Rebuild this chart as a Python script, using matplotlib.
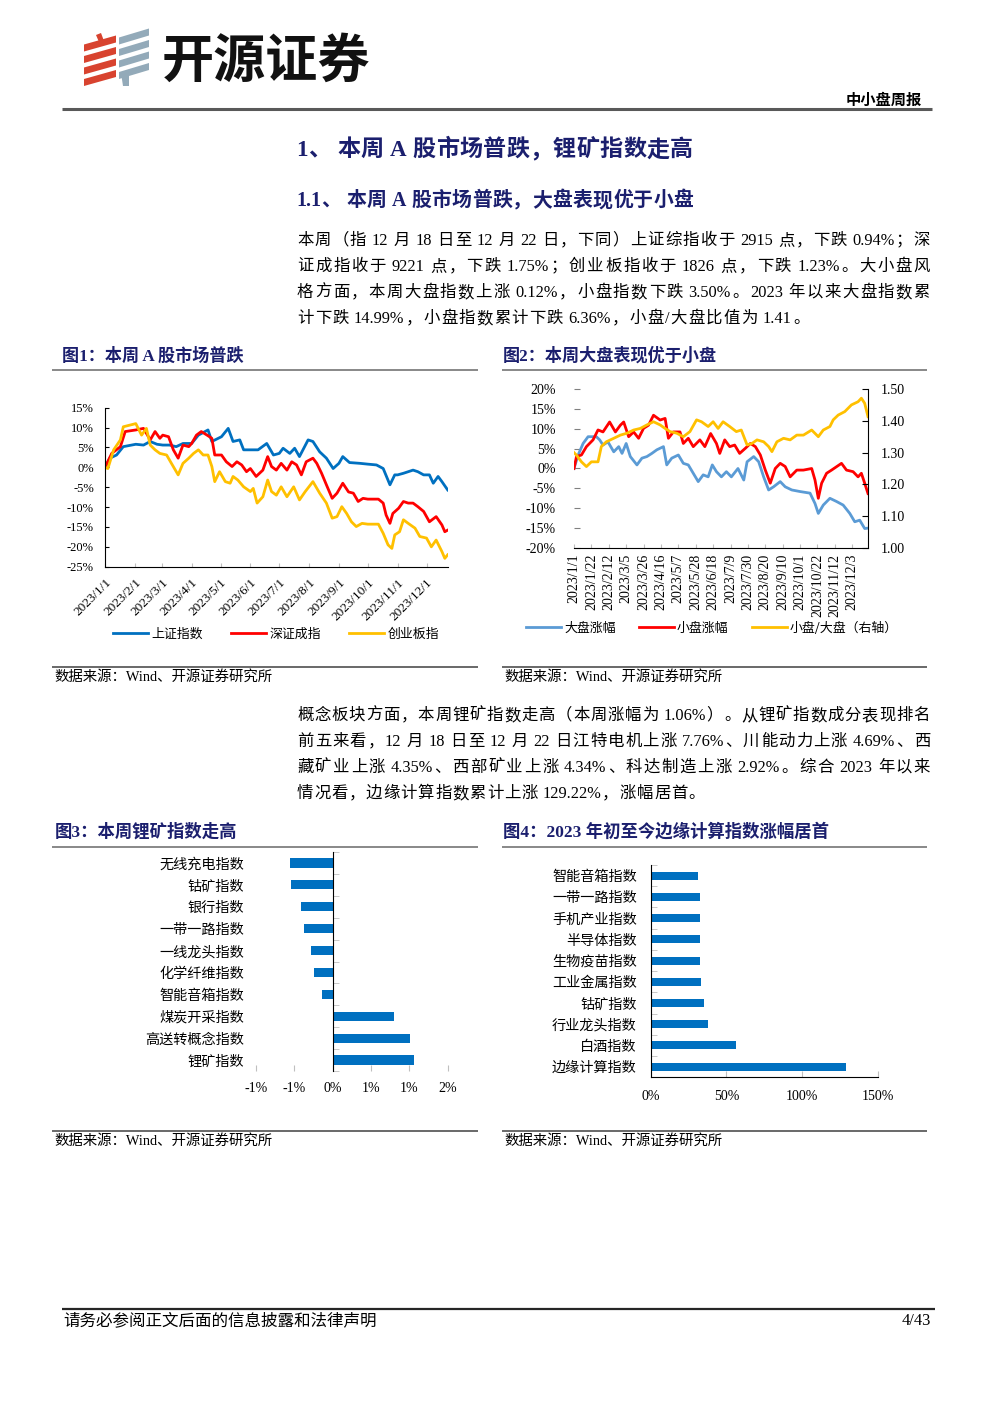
import matplotlib
matplotlib.use('Agg')
import matplotlib.pyplot as plt
from matplotlib.lines import Line2D
from matplotlib.patches import Polygon
import numpy as np
import pandas as pd

W, H, DPI = 992, 1403, 100
SERIF = ['Liberation Serif', 'Noto Sans CJK SC']
CJK = ['Noto Sans CJK SC', 'Liberation Serif']
NAVY = '#1B1F6E'
plt.rcParams['font.family'] = SERIF
plt.rcParams['axes.unicode_minus'] = False

# ---------------- data ----------------
# Fig 1 : index cumulative change (%) ; x = days since 2023-01-01
SH_DAYS = [0, 5, 12, 19, 32, 40, 47, 54, 60, 67, 74, 81, 90, 97, 107, 111, 121, 128, 133, 140,
           144, 151, 159, 168, 175, 181, 185, 192, 197, 202, 211, 216, 223, 230, 237, 243, 247, 254, 265, 273,
           282, 289, 296, 301, 304, 310, 315, 320, 325, 331, 337, 341, 346, 350, 356]
SH_VALS = [0, 2.3, 3.1, 5.2, 5.8, 5.6, 6.5, 5.8, 5.6, 5.6, 5.2, 6.0, 6.0, 8.1, 9.4, 6.5, 7.7, 9.8, 6.5, 6.9,
           4.4, 4.4, 4.4, 6.0, 3.1, 3.5, 4.8, 3.5, 4.8, 2.7, 6.9, 6.5, 3.9, 2.3, -0.3, 1.0, 2.7, 1.2, 1.0, 0.8,
           0.6, -0.3, -4.4, -1.9, -1.9, -1.5, -1.1, -0.7, -1.1, -1.9, -1.9, -4.0, -2.3, -3.6, -5.7]
SZ_DAYS = [0, 7, 16, 21, 32, 40, 47, 52, 57, 60, 66, 71, 76, 81, 87, 90, 95, 100, 106, 111,
           114, 121, 126, 132, 137, 142, 147, 151, 157, 164, 169, 173, 178, 183, 189, 194, 199, 204, 209, 216,
           220, 225, 230, 236, 241, 247, 253, 258, 263, 268, 273, 284, 289, 292, 296, 299, 305, 310, 315, 320,
           325, 331, 337, 344, 350, 353, 356]
SZ_VALS = [0, 3.5, 5.2, 9.0, 9.4, 9.8, 6.9, 9.0, 7.3, 8.1, 7.7, 4.4, 2.3, 5.6, 5.2, 6.0, 8.1, 9.0, 8.1, 7.3,
           3.1, 3.1, 1.4, 0.2, 1.4, 0.6, -1.1, -0.3, -2.3, -0.7, 2.7, 0.2, -0.7, 1.0, -0.7, 1.4, 0.6, -1.9, 1.4, 2.3,
           1.0, -1.5, -4.4, -7.8, -6.5, -4.0, -6.2, -6.5, -8.6, -7.8, -8.0, -8.0, -9.0, -12.0, -14.1, -11.6, -10.3, -8.6, -9.0, -9.0,
           -9.9, -11.1, -13.7, -12.4, -14.5, -16.2, -15.8]
CY_DAYS = [0, 3, 9, 16, 19, 32, 38, 43, 47, 52, 57, 64, 69, 76, 81, 87, 92, 97, 102, 107,
           111, 114, 119, 125, 130, 133, 138, 144, 151, 154, 158, 164, 169, 173, 178, 183, 189, 196, 202, 208,
           216, 223, 230, 236, 241, 246, 251, 256, 261, 267, 273, 284, 289, 294, 298, 301, 306, 310, 315, 322,
           327, 334, 339, 344, 350, 353, 356]
CY_VALS = [0, -0.3, 4.4, 6.9, 10.2, 11.0, 8.1, 9.8, 5.6, 4.4, 3.5, 3.1, 1.0, -1.9, 1.0, 2.3, 3.5, 4.4, 3.1, 3.1,
           0.2, -3.6, -1.1, -3.6, -4.0, -2.3, -3.2, -4.9, -6.1, -5.3, -9.0, -7.4, -3.2, -6.1, -7.0, -4.9, -7.4, -4.9, -8.2, -6.1,
           -3.6, -6.5, -9.0, -12.8, -12.4, -9.9, -11.6, -13.7, -14.9, -14.1, -14.3, -14.3, -16.6, -19.5, -20.4, -17.0, -16.2, -13.2, -14.1, -15.3,
           -17.4, -17.8, -20.0, -18.3, -21.2, -22.9, -22.0]
F1_NAMES = ['上证指数', '深证成指', '创业板指']
F1_XTICKS = ['2023-01-01', '2023-02-01', '2023-03-01', '2023-04-01', '2023-05-01', '2023-06-01',
             '2023-07-01', '2023-08-01', '2023-09-01', '2023-10-01', '2023-11-01', '2023-12-01']
F1_XLABELS = ['2023/1/1', '2023/2/1', '2023/3/1', '2023/4/1', '2023/5/1', '2023/6/1',
              '2023/7/1', '2023/8/1', '2023/9/1', '2023/10/1', '2023/11/1', '2023/12/1']
F1_YTICKS = [-25, -20, -15, -10, -5, 0, 5, 10, 15]

# Fig 2 : large / small cap change (%), ratio (right axis)
BIG_DAYS = [0, 5, 11, 17, 27, 31, 35, 41, 48, 54, 58, 63, 68, 76, 82, 88, 94, 100, 108, 112,
            118, 126, 132, 138, 144, 150, 156, 162, 167, 172, 178, 184, 190, 198, 205, 209, 217, 223, 229, 235,
            241, 249, 255, 263, 273, 285, 291, 295, 301, 309, 317, 325, 333, 339, 345, 351, 355]
BIG_VALS = [0, 3.4, 6.3, 8.0, 8.0, 7.2, 5.9, 6.7, 4.2, 5.5, 3.8, 6.3, 3.0, 0.9, 2.6, 3.0, 3.8, 4.7, 5.5, 0.9,
            2.6, 3.4, 1.3, 0.9, -1.2, -3.3, -1.6, -2.1, 0.9, -0.8, -2.1, -0.8, -2.1, 0.0, -2.9, 1.7, 3.0, 1.7, -2.1, -5.4,
            -4.6, -3.3, -4.6, -5.4, -5.8, -6.2, -8.8, -11.3, -9.2, -7.5, -8.3, -9.2, -11.3, -13.4, -13.0, -15.1, -15.0]
SMALL_DAYS = [0, 3, 9, 15, 23, 29, 35, 43, 50, 56, 60, 66, 72, 78, 84, 90, 96, 104, 110, 114,
              120, 128, 132, 138, 144, 152, 158, 165, 172, 176, 182, 188, 194, 200, 207, 213, 219, 225, 231, 237,
              243, 249, 255, 261, 269, 277, 287, 291, 295, 299, 305, 311, 323, 329, 337, 343, 347, 351, 355]
SMALL_VALS = [0, 3.0, 3.4, 5.5, 7.2, 9.7, 9.2, 11.7, 9.2, 10.9, 11.7, 8.0, 9.2, 7.6, 10.1, 10.9, 13.4, 12.2, 12.6, 7.6,
              9.2, 9.2, 6.3, 7.6, 5.5, 7.2, 5.5, 8.8, 6.3, 3.8, 7.2, 5.5, 5.9, 3.8, 5.1, 6.3, 5.5, 3.4, -0.4, -3.7,
              0.0, 1.3, 0.5, -2.1, -0.4, -0.4, 0.0, -2.9, -7.5, -3.7, -1.2, -0.4, 1.3, -0.4, -0.8, -2.1, -1.2, -3.7, -6.3]
RATIO_DAYS = [0, 3, 9, 15, 21, 29, 33, 39, 48, 56, 64, 72, 80, 88, 96, 104, 110, 116, 124, 132,
              140, 148, 154, 162, 168, 174, 180, 188, 196, 202, 209, 215, 221, 229, 235, 239, 245, 253, 261, 269,
              277, 287, 295, 301, 309, 313, 319, 327, 335, 343, 347, 351, 355]
RATIO_VALS = [1.300, 1.292, 1.271, 1.256, 1.271, 1.271, 1.319, 1.334, 1.345, 1.355, 1.361, 1.371, 1.376, 1.387, 1.397, 1.387, 1.376, 1.366, 1.361, 1.350,
              1.366, 1.403, 1.397, 1.382, 1.397, 1.376, 1.397, 1.382, 1.366, 1.371, 1.324, 1.329, 1.340, 1.334, 1.319, 1.303, 1.334, 1.345, 1.340, 1.355,
              1.355, 1.371, 1.350, 1.371, 1.382, 1.403, 1.418, 1.429, 1.450, 1.460, 1.471, 1.455, 1.413]
F2_NAMES = ['大盘涨幅', '小盘涨幅', '小盘/大盘（右轴）']
F2_XLABELS = ['2023/1/1', '2023/1/22', '2023/2/12', '2023/3/5', '2023/3/26', '2023/4/16', '2023/5/7',
              '2023/5/28', '2023/6/18', '2023/7/9', '2023/7/30', '2023/8/20', '2023/9/10', '2023/10/1',
              '2023/10/22', '2023/11/12', '2023/12/3']
F2_YTICKS = [-20, -15, -10, -5, 0, 5, 10, 15, 20]
F2_RTICKS = [1.00, 1.10, 1.20, 1.30, 1.40, 1.50]

# Fig 3 : weekly change of concept indices (%)
F3_CATS = ['无线充电指数', '钴矿指数', '银行指数', '一带一路指数', '一线龙头指数',
           '化学纤维指数', '智能音箱指数', '煤炭开采指数', '高送转概念指数', '锂矿指数']
F3_VALS = [-0.56, -0.54, -0.41, -0.37, -0.28, -0.24, -0.14, 0.80, 1.01, 1.06]
F3_XTICKS = [-1.0, -0.5, 0.0, 0.5, 1.0, 1.5]
F3_XLABELS = ['-1%', '-1%', '0%', '1%', '1%', '2%']

# Fig 4 : YTD change (%)
F4_CATS = ['智能音箱指数', '一带一路指数', '手机产业指数', '半导体指数', '生物疫苗指数',
           '工业金属指数', '钴矿指数', '行业龙头指数', '白酒指数', '边缘计算指数']
F4_VALS = [31.3, 32.6, 32.7, 32.8, 32.9, 33.2, 35.2, 37.9, 56.4, 129.22]
F4_XTICKS = [0, 50, 100, 150]

# ---------------- page ----------------
fig = plt.figure(figsize=(W / DPI, H / DPI), dpi=DPI)
renderer = fig.canvas.get_renderer()


def fx(x):
    return x / W


def fy(y):
    return 1 - y / H


def hline(x0, x1, y, lw, color):
    fig.add_artist(Line2D([fx(x0), fx(x1)], [fy(y), fy(y)], transform=fig.transFigure,
                          lw=lw, color=color, solid_capstyle='butt'))


def axes_px(x0, y0, x1, y1):
    return fig.add_axes([fx(x0), fy(y1), (x1 - x0) / W, (y1 - y0) / H])


def poly(pts, color):
    fig.add_artist(Polygon([(fx(x), fy(y)) for x, y in pts], closed=True,
                           transform=fig.transFigure, facecolor=color, edgecolor='none'))


def tokens_of(s):
    """visible tokens with the number of spaces preceding them"""
    toks, buf, spaces = [], '', 0
    for ch in s:
        if ch == ' ':
            if buf:
                toks.append((buf, spaces))
                buf, spaces = '', 0
            spaces += 1
        elif ord(ch) < 128:
            buf += ch
        else:
            if buf:
                toks.append((buf, spaces))
                buf, spaces = '', 0
            toks.append((ch, spaces))
            spaces = 0
    if buf:
        toks.append((buf, spaces))
    return toks


def text_width(s, size, weight='normal'):
    t = fig.text(0, 0, s, fontsize=size, fontfamily=SERIF, weight=weight)
    w = t.get_window_extent(renderer).width
    t.remove()
    return w


def para_line(s, x0, x1, yc, size, extra=None, color='black', weight='normal', space=0.25):
    toks = tokens_of(s)
    sp = size * DPI / 72 * space
    widths = [text_width(t, size, weight) for t, _ in toks]
    total = sum(widths) + sum(n for _, n in toks) * sp
    if extra is None:
        extra = (x1 - x0 - total) / (len(toks) - 1)
    yb = yc + 0.36 * size * DPI / 72
    x = x0
    for i, ((t, n), w) in enumerate(zip(toks, widths)):
        if i > 0:
            x += extra
        x += n * sp
        fig.text(fx(x), fy(yb), t, fontsize=size, fontfamily=SERIF, weight=weight,
                 color=color, ha='left', va='baseline')
        x += w
    return extra


# logo
for i in range(4):
    yb = 86 - i * 11.5
    poly([(84, yb), (116, yb - 9), (116, yb - 16), (84, yb - 7)], '#D8432F')
poly([(96, 35), (101, 33), (104, 41), (99, 42)], '#D8432F')
for i in range(4):
    yb = 79 - i * 11.5
    poly([(119, yb), (149, yb - 9), (149, yb - 16), (119, yb - 7)], '#93AAB9')
poly([(121, 73), (129, 71), (129, 86), (123, 86)], '#93AAB9')
fig.text(fx(162), fy(61), '开源证券', fontsize=37.5, fontfamily=CJK, weight='bold', color='#111111',
         ha='left', va='center')
fig.text(fx(922), fy(100), '中小盘周报', fontsize=11, fontfamily=CJK, weight='bold', ha='right', va='center')
hline(62, 932, 108.5, 2.2, '#595959')

# headings & paragraphs
para_line('1、 本周 A 股市场普跌，锂矿指数走高', 296, 700, 148, 16.6, extra=0.4, color=NAVY, weight='bold')
para_line('1.1、 本周 A 股市场普跌，大盘表现优于小盘', 296, 700, 199, 14.3, extra=0.3, color=NAVY, weight='bold')
P1 = ['本周（指 12 月 18 日至 12 月 22 日，下同）上证综指收于 2915 点，下跌 0.94%；深',
      '证成指收于 9221 点，下跌 1.75%；创业板指收于 1826 点，下跌 1.23%。大小盘风',
      '格方面，本周大盘指数上涨 0.12%，小盘指数下跌 3.50%。2023 年以来大盘指数累',
      '计下跌 14.99%，小盘指数累计下跌 6.36%，小盘/大盘比值为 1.41。']
P2 = ['概念板块方面，本周锂矿指数走高（本周涨幅为 1.06%）。从锂矿指数成分表现排名',
      '前五来看，12 月 18 日至 12 月 22 日江特电机上涨 7.76%、川能动力上涨 4.69%、西',
      '藏矿业上涨 4.35%、西部矿业上涨 4.34%、科达制造上涨 2.92%。综合 2023 年以来',
      '情况看，边缘计算指数累计上涨 129.22%，涨幅居首。']
for para, ytop in [(P1, 239), (P2, 714)]:
    ex = []
    for i, s in enumerate(para):
        if i < len(para) - 1:
            ex.append(para_line(s, 297, 930, ytop + 26 * i, 11.8))
        else:
            para_line(s, 297, 930, ytop + 26 * i, 11.8, extra=min(ex))

# figure titles / sources
SRC = '数据来源：Wind、开源证券研究所'
for x0, x1, tx, title in [(52, 478, 62, '图1：本周 A 股市场普跌'), (502, 927, 503, '图2：本周大盘表现优于小盘')]:
    fig.text(fx(tx), fy(356), title, fontsize=12.3, weight='bold', color=NAVY, va='center')
    hline(x0, x1, 370, 1.3, '#7F7F7F')
    hline(x0, x1, 667, 1.1, '#404040')
    fig.text(fx(x0 + 2), fy(677), SRC, fontsize=10.4, va='center')
for x0, x1, tx, title in [(52, 478, 55, '图3：本周锂矿指数走高'), (502, 927, 503, '图4：2023 年初至今边缘计算指数涨幅居首')]:
    fig.text(fx(tx), fy(832), title, fontsize=12.5, weight='bold', color=NAVY, va='center')
    hline(x0, x1, 846.5, 1.3, '#7F7F7F')
    hline(x0, x1, 1131, 1.1, '#404040')
    fig.text(fx(x0 + 2), fy(1141), SRC, fontsize=10.4, va='center')

# footer
hline(62, 935, 1309, 1.6, '#262626')
fig.text(fx(63), fy(1321), '请务必参阅正文后面的信息披露和法律声明', fontsize=11.9, va='center')
fig.text(fx(931), fy(1321), '4/43', fontsize=11.9, va='center', ha='right')

BASE = pd.Timestamp('2023-01-01')


def to_dates(days):
    return BASE + pd.to_timedelta(np.array(days), unit='D')


# ---------------- Figure 1 ----------------
ax1 = axes_px(105, 407.7, 447.7, 566.7)
l1, = ax1.plot(to_dates(SH_DAYS), SH_VALS, color='#0070C0', lw=2.0)
l2, = ax1.plot(to_dates(SZ_DAYS), SZ_VALS, color='#FF0000', lw=2.0)
l3, = ax1.plot(to_dates(CY_DAYS), CY_VALS, color='#FFC000', lw=2.0)
ax1.set_xlim(BASE, BASE + pd.Timedelta(days=356))
ax1.set_ylim(-25, 15)
ax1.set_yticks(F1_YTICKS)
ax1.set_yticklabels([f'{v}%' for v in F1_YTICKS], fontsize=9)
ax1.set_xticks(pd.to_datetime(F1_XTICKS))
ax1.set_xticklabels(F1_XLABELS, rotation=45, ha='right', rotation_mode='anchor', fontsize=9.5)
for s in ['top', 'right']:
    ax1.spines[s].set_visible(False)
ax1.tick_params(axis='y', direction='in', length=3, width=0.8, pad=8)
ax1.tick_params(axis='x', direction='in', length=3, color='#BFBFBF', pad=7)
fig.legend([l1, l2, l3], F1_NAMES, loc='center', bbox_to_anchor=(fx(276), fy(634)), ncol=3,
           frameon=False, prop={'family': CJK, 'size': 9.3}, handlelength=2.7, handletextpad=0.25,
           columnspacing=2.2)

# ---------------- Figure 2 ----------------
ax2 = axes_px(574, 389, 868, 548)
m1, = ax2.plot(to_dates(BIG_DAYS), BIG_VALS, color='#5B9BD5', lw=2.0)
m2, = ax2.plot(to_dates(SMALL_DAYS), SMALL_VALS, color='#FF0000', lw=2.0)
ax2.set_xlim(BASE, BASE + pd.Timedelta(days=355))
ax2.set_ylim(-20, 20)
ax2.set_yticks(F2_YTICKS)
ax2.set_yticklabels([f'{v}%' for v in F2_YTICKS], fontsize=10)
ax2.set_xticks(pd.to_datetime([l.replace('/', '-') for l in F2_XLABELS]))
ax2.set_xticklabels(F2_XLABELS, rotation=90, fontsize=10)
for s in ['top', 'left', 'right']:
    ax2.spines[s].set_visible(False)
ax2.tick_params(axis='y', direction='in', length=4, color='#808080', pad=13)
ax2.tick_params(axis='x', direction='in', length=3, color='#BFBFBF', pad=4)
ax2r = ax2.twinx()
m3, = ax2r.plot(to_dates(RATIO_DAYS), RATIO_VALS, color='#FFC000', lw=2.0)
ax2r.set_ylim(1.0, 1.5)
ax2r.set_yticks(F2_RTICKS)
ax2r.set_yticklabels([f'{v:.2f}' for v in F2_RTICKS], fontsize=10)
for s in ['top', 'left']:
    ax2r.spines[s].set_visible(False)
ax2r.spines['bottom'].set_visible(False)
ax2r.tick_params(axis='y', direction='in', length=4, pad=9)
fig.legend([m1, m2, m3], F2_NAMES, loc='center', bbox_to_anchor=(fx(712), fy(628)), ncol=3,
           frameon=False, prop={'family': CJK, 'size': 9.3}, handlelength=2.7, handletextpad=0.25,
           columnspacing=1.8)

# ---------------- Figure 3 ----------------
ax3 = axes_px(256, 852, 447.7, 1071)
y3 = np.arange(len(F3_CATS))
ax3.barh(y3, F3_VALS, height=0.42, color='#0070C0')
ax3.set_xlim(-1.0, 1.5)
ax3.set_ylim(len(F3_CATS) - 0.5, -0.5)
for s in ['top', 'right', 'bottom']:
    ax3.spines[s].set_visible(False)
ax3.spines['left'].set_position(('data', 0))
ax3.set_yticks(y3)
ax3.set_yticklabels(F3_CATS, fontsize=10.2, fontfamily=CJK)
ax3.set_yticks(np.arange(len(F3_CATS) + 1) - 0.5, minor=True)
ax3.tick_params(axis='y', which='major', length=0, pad=64)
ax3.tick_params(axis='y', which='minor', direction='in', length=4, color='#BFBFBF')
ax3.set_xticks(F3_XTICKS)
ax3.set_xticklabels(F3_XLABELS, fontsize=10)
ax3.tick_params(axis='x', direction='in', length=4, color='#BFBFBF', pad=8)

# ---------------- Figure 4 ----------------
ax4 = axes_px(650.7, 865, 877.7, 1077.3)
y4 = np.arange(len(F4_CATS))
ax4.barh(y4, F4_VALS, height=0.38, color='#0070C0')
ax4.set_xlim(0, 150)
ax4.set_ylim(len(F4_CATS) - 0.5, -0.5)
for s in ['top', 'right']:
    ax4.spines[s].set_visible(False)
ax4.set_yticks(y4)
ax4.set_yticklabels(F4_CATS, fontsize=10.2, fontfamily=CJK)
ax4.set_yticks(np.arange(len(F4_CATS) + 1) - 0.5, minor=True)
ax4.tick_params(axis='y', which='major', length=0, pad=10)
ax4.tick_params(axis='y', which='minor', direction='in', length=4, color='#BFBFBF')
ax4.set_xticks(F4_XTICKS)
ax4.set_xticklabels([f'{v}%' for v in F4_XTICKS], fontsize=10)
ax4.tick_params(axis='x', direction='in', length=4, color='#BFBFBF', pad=9)

fig.savefig('out.png', dpi=DPI)
